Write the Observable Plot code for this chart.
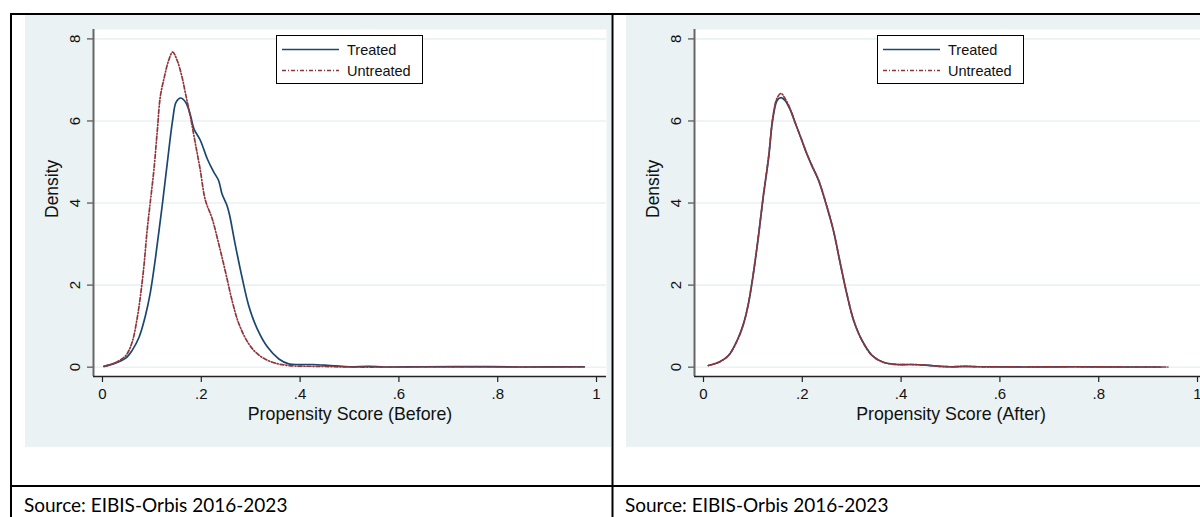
<!DOCTYPE html>
<html>
<head>
<meta charset="utf-8">
<script src="https://cdn.jsdelivr.net/npm/d3@7"></script>
<script src="https://cdn.jsdelivr.net/npm/@observablehq/plot@0.6"></script>
<style>
  html, body { margin: 0; padding: 0; background: #ffffff; width: 1200px; height: 517px; overflow: hidden; }
  #page { position: relative; width: 1200px; height: 517px; overflow: hidden; }
  .chart { position: absolute; top: 15px; width: 586px; height: 432px; }
  .chart svg { max-width: none !important; }
  #decor { position: absolute; left: 0; top: 0; pointer-events: none; }
</style>
</head>
<body>
<div id="page">
  <div id="left" class="chart" style="left:25px"></div>
  <div id="right" class="chart" style="left:626px"></div>
  <svg id="decor" width="1200" height="517"></svg>
</div>
<script>
// ---------- data ----------
const seriesNames = ["Treated", "Untreated"];
const panelTitles = ["Propensity Score (Before)", "Propensity Score (After)"];
const yAxisTitle = "Density";
const sourceText = "Source: EIBIS-Orbis 2016-2023";

const yTicks = [0, 2, 4, 6, 8];
const yTickLabels = ["0", "2", "4", "6", "8"];
const xTicks = [0, 0.2, 0.4, 0.6, 0.8, 1];
const xTickLabels = ["0", ".2", ".4", ".6", ".8", "1"];

// Before matching
const beforeTreatedX = [0.003,0.026,0.047,0.060,0.074,0.087,0.097,0.107,0.115,0.122,0.131,0.142,0.149,0.158,0.168,0.178,0.185,0.198,0.212,0.225,0.235,0.242,0.252,0.257,0.269,0.283,0.296,0.313,0.334,0.357,0.377,0.400,0.425,0.450,0.472,0.500,0.540,0.570,0.650,0.750,0.850,0.975];
const beforeTreatedY = [0.02,0.10,0.22,0.41,0.73,1.26,1.83,2.64,3.38,4.05,4.96,6.02,6.46,6.56,6.46,6.14,5.81,5.53,5.08,4.76,4.55,4.22,3.94,3.72,2.97,2.16,1.50,0.94,0.49,0.20,0.08,0.065,0.065,0.05,0.03,0.01,0.02,0.005,0.01,0.015,0.005,0.01];
const beforeUntreatedX = [0.003,0.026,0.047,0.060,0.070,0.077,0.084,0.090,0.097,0.104,0.111,0.117,0.126,0.134,0.142,0.151,0.161,0.168,0.178,0.188,0.198,0.208,0.222,0.236,0.249,0.263,0.276,0.296,0.317,0.344,0.377,0.437,0.506,0.600,0.750,0.975];
const beforeUntreatedY = [0.02,0.11,0.28,0.61,1.18,1.75,2.48,3.29,4.05,4.80,5.77,6.59,7.11,7.48,7.68,7.48,7.07,6.67,6.10,5.45,4.80,4.08,3.62,2.97,2.32,1.59,1.06,0.57,0.29,0.12,0.04,0.02,0.005,0.005,0.005,0.005];

// After matching
const afterTreatedX = [0.010,0.034,0.051,0.068,0.081,0.091,0.101,0.111,0.121,0.132,0.140,0.149,0.157,0.165,0.176,0.186,0.199,0.209,0.219,0.233,0.250,0.263,0.277,0.290,0.304,0.321,0.341,0.364,0.391,0.420,0.450,0.480,0.500,0.530,0.560,0.650,0.750,0.850,0.926];
const afterTreatedY = [0.04,0.14,0.29,0.65,1.06,1.55,2.28,3.17,4.15,5.12,6.02,6.50,6.57,6.50,6.26,5.94,5.53,5.20,4.92,4.55,3.90,3.33,2.52,1.79,1.14,0.65,0.29,0.12,0.065,0.065,0.05,0.02,0.01,0.02,0.01,0.005,0.01,0.005,0.005];
const afterUntreatedX = [0.010,0.034,0.051,0.068,0.081,0.091,0.101,0.111,0.121,0.132,0.140,0.149,0.157,0.165,0.176,0.186,0.199,0.209,0.219,0.233,0.250,0.263,0.277,0.290,0.304,0.321,0.341,0.364,0.391,0.420,0.450,0.480,0.500,0.530,0.560,0.650,0.750,0.850,0.940];
const afterUntreatedY = [0.04,0.14,0.29,0.64,1.05,1.56,2.30,3.18,4.17,5.15,6.06,6.56,6.67,6.55,6.28,5.95,5.53,5.21,4.93,4.56,3.91,3.33,2.52,1.80,1.14,0.65,0.29,0.12,0.065,0.065,0.05,0.02,0.01,0.02,0.01,0.005,0.01,0.005,0.005];

// ---------- style ----------
const navy = "#1a476f", maroon = "#90353b", panelBg = "#eaf2f3";
const fontAxis = "'Liberation Sans', Arial, sans-serif";
const xDomain = [-0.0182, 1.0202];
const yDomain = [-0.227, 8.229];

function rows(xs, ys) { return xs.map((x, i) => ({x, y: ys[i]})); }

function makeChart(treated, untreated, title) {
  return Plot.plot({
    width: 586, height: 432,
    marginLeft: 68, marginRight: 5, marginTop: 14, marginBottom: 71,
    x: {domain: xDomain, label: null},
    y: {domain: yDomain, label: null},
    style: {background: panelBg, fontFamily: fontAxis, color: "#000", overflow: "visible", maxWidth: "none"},
    marks: [
      Plot.frame({fill: "white", stroke: "none"}),
      Plot.gridY(yTicks, {stroke: panelBg, strokeOpacity: 1, strokeWidth: 1.6}),
      Plot.line(treated, {x: "x", y: "y", stroke: navy, strokeWidth: 1.7, curve: "catmull-rom"}),
      Plot.line(untreated, {x: "x", y: "y", stroke: maroon, strokeWidth: 1.7, strokeDasharray: "4 2 1 2", curve: "catmull-rom"}),
      Plot.axisY({ticks: yTicks, tickSize: 6, tickFormat: () => "", label: null, stroke: "#666", strokeWidth: 1.4}),
      Plot.axisX({ticks: xTicks, tickSize: 6, tickFormat: () => "", label: null, stroke: "#222", strokeWidth: 1.2}),
      Plot.ruleX([xDomain[0]], {stroke: "#666", strokeWidth: 2}),
      Plot.ruleY([yDomain[0]], {stroke: "#222", strokeWidth: 1.3}),
      Plot.text(yTicks, {x: xDomain[0], y: d => d, dx: -18, rotate: -90, text: (d, i) => yTickLabels[i], fontSize: 15, fill: "#111"}),
      Plot.text(xTicks, {x: d => d, y: yDomain[0], dy: 18, text: (d, i) => xTickLabels[i], fontSize: 15, fill: "#111"}),
      Plot.text([yAxisTitle], {frameAnchor: "left", dx: -41, dy: 15, rotate: -90, text: d => d, fontSize: 17.5, fill: "#111"}),
      Plot.text([title], {frameAnchor: "bottom", dy: 43, text: d => d, fontSize: 17.8, fill: "#111"})
    ]
  });
}

document.getElementById("left").append(makeChart(rows(beforeTreatedX, beforeTreatedY), rows(beforeUntreatedX, beforeUntreatedY), panelTitles[0]));
document.getElementById("right").append(makeChart(rows(afterTreatedX, afterTreatedY), rows(afterUntreatedX, afterUntreatedY), panelTitles[1]));

// ---------- table frame, legends, source ----------
const svg = d3.select("#decor");
const lines = [
  [11, 14, 1200, 14], [11, 13, 11, 517], [612.5, 13, 612.5, 517], [11, 486, 1200, 486]
];
lines.forEach(([x1, y1, x2, y2]) => svg.append("line").attr("x1", x1).attr("y1", y1).attr("x2", x2).attr("y2", y2).attr("stroke", "#000").attr("stroke-width", 2));

[276, 877].forEach(lx => {
  const g = svg.append("g").attr("transform", `translate(${lx},35)`);
  g.append("rect").attr("x", 0.5).attr("y", 0.5).attr("width", 146).attr("height", 48).attr("fill", "#fff").attr("stroke", "#000").attr("stroke-width", 1);
  g.append("line").attr("x1", 6).attr("x2", 63).attr("y1", 14.5).attr("y2", 14.5).attr("stroke", navy).attr("stroke-width", 1.6);
  g.append("line").attr("x1", 6).attr("x2", 63).attr("y1", 35.5).attr("y2", 35.5).attr("stroke", maroon).attr("stroke-width", 1.6).attr("stroke-dasharray", "4 2 1 2");
  seriesNames.forEach((n, i) => g.append("text").attr("x", 71).attr("y", 19.7 + i * 21).attr("font-family", fontAxis).attr("font-size", 14.5).attr("fill", "#111").text(n));
});

[24, 625].forEach(sx => svg.append("text").attr("x", sx).attr("y", 512).attr("font-family", "Lato, 'Open Sans', sans-serif").attr("font-size", 19).attr("fill", "#000").text(sourceText));
</script>
</body>
</html>
